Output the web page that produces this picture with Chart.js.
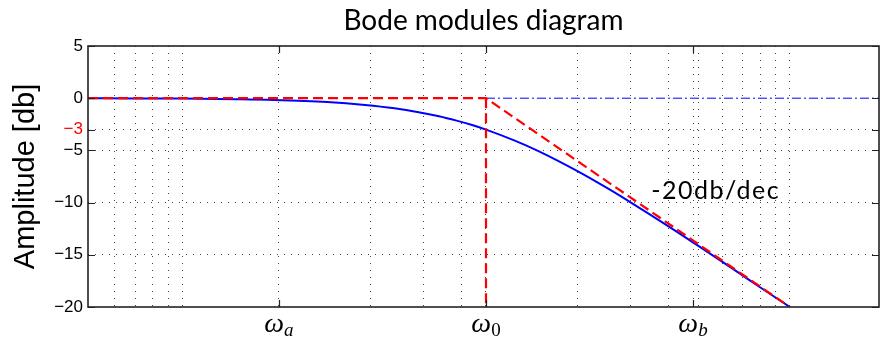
<!DOCTYPE html>
<html>
<head>
<meta charset="utf-8">
<script src="https://cdn.jsdelivr.net/npm/chart.js@4"></script>
<style>
  html, body { margin: 0; padding: 0; background: #fff; }
  #wrap { width: 884px; height: 337px; position: relative; }
</style>
</head>
<body>
<div id="wrap"><canvas id="bode"></canvas></div>
<script>
// magnitude of the first order system
const omega = [0.049, 0.07, 0.1, 0.15, 0.2, 0.3, 0.4, 0.5, 0.6, 0.7, 0.8, 0.9, 1, 1.25, 1.5, 2, 2.5, 3, 4, 5, 6, 7, 8, 10];
const gainDb = [-0.01, -0.02, -0.04, -0.1, -0.17, -0.37, -0.65, -0.97, -1.34, -1.73, -2.15, -2.57, -3.01, -4.09, -5.12, -6.99, -8.6, -10.0, -12.3, -14.15, -15.68, -16.99, -18.13, -20.0];

// asymptotes
const asymOmega = [0.049, 1, 10];
const asymDb = [0, 0, -20];
const cutOmega = [1, 1];
const cutDb = [0, -20];
const refOmega = [1, 19.65];
const refDb = [0, 0];

// axes
const xMin = 0.049, xMax = 19.65;
const xGrid = [0.06, 0.07, 0.08, 0.09, 0.1, 0.208, 0.416, 0.624, 0.832, 1, 2, 3, 4, 4.8, 5, 6, 7, 8, 9, 10];
const xLabelValues = [0.208, 1, 4.8];
const xLabelSubs = ['a', '0', 'b'];
const yTicks = [5, 0, -3, -5, -10, -15, -20];

const pts = (xs, ys) => xs.map((v, i) => ({ x: v, y: ys[i] }));

const decor = {
  id: 'decor',
  afterDraw(chart) {
    const { ctx, chartArea: a, scales: { x, y } } = chart;
    ctx.save();
    // frame
    ctx.strokeStyle = '#222';
    ctx.lineWidth = 1.6;
    ctx.strokeRect(a.left, a.top, a.right - a.left, a.bottom - a.top);
    // inward ticks
    ctx.lineWidth = 1.2;
    ctx.beginPath();
    yTicks.forEach(v => {
      const py = Math.round(y.getPixelForValue(v)) + 0.5;
      ctx.moveTo(a.left, py); ctx.lineTo(a.left + 7, py);
      ctx.moveTo(a.right, py); ctx.lineTo(a.right - 7, py);
    });
    xLabelValues.forEach(v => {
      const px = Math.round(x.getPixelForValue(v)) + 0.5;
      ctx.moveTo(px, a.bottom); ctx.lineTo(px, a.bottom - 7);
      ctx.moveTo(px, a.top); ctx.lineTo(px, a.top + 7);
    });
    ctx.stroke();

    // omega labels
    ctx.fillStyle = '#000';
    ctx.textBaseline = 'alphabetic';
    ctx.textAlign = 'left';
    xLabelValues.forEach((v, i) => {
      const px = x.getPixelForValue(v);
      ctx.font = 'italic 28px "Liberation Serif"';
      const w1 = ctx.measureText('ω').width;
      const subFont = xLabelSubs[i] === '0' ? '19px "Liberation Serif"' : 'italic 19px "Liberation Serif"';
      ctx.font = subFont;
      const w2 = ctx.measureText(xLabelSubs[i]).width;
      const x0 = px - (w1 + w2) / 2;
      ctx.font = 'italic 28px "Liberation Serif"';
      ctx.fillText('ω', x0, 332);
      ctx.font = subFont;
      ctx.fillText(xLabelSubs[i], x0 + w1, 336);
    });

    // title
    ctx.font = '28px Lato';
    ctx.textAlign = 'center';
    ctx.fillText('Bode modules diagram', (a.left + a.right) / 2, 30);

    // slope annotation
    ctx.font = '25px Lato';
    ctx.textAlign = 'left';
    ctx.letterSpacing = '1.5px';
    ctx.fillText('-20db/dec', x.getPixelForValue(3.5), y.getPixelForValue(-9.65));
    ctx.restore();
  }
};

new Chart(document.getElementById('bode'), {
  type: 'line',
  data: {
    datasets: [
      {
        data: pts(asymOmega, asymDb),
        borderColor: '#ff0000',
        borderWidth: 2.2,
        borderDash: [10, 5],
        pointRadius: 0,
        order: 0,
      },
      {
        data: pts(cutOmega, cutDb),
        borderColor: '#ff0000',
        borderWidth: 2.2,
        borderDash: [10, 5],
        pointRadius: 0,
        order: 0,
      },
      {
        data: pts(refOmega, refDb),
        borderColor: '#0000ff',
        borderWidth: 1,
        borderDash: [9, 3, 2, 3],
        pointRadius: 0,
        order: 1,
      },
      {
        data: pts(omega, gainDb),
        borderColor: '#0000ff',
        borderWidth: 2,
        pointRadius: 0,
        cubicInterpolationMode: 'monotone',
        order: 2,
      },
    ],
  },
  options: {
    responsive: true,
    maintainAspectRatio: false,
    animation: false,
    layout: { padding: { top: 46, right: 5, left: 0, bottom: 0 } },
    plugins: { legend: { display: false }, tooltip: { enabled: false }, title: { display: false } },
    scales: {
      x: {
        type: 'logarithmic',
        min: xMin,
        max: xMax,
        afterBuildTicks: (scale) => { scale.ticks = xGrid.map(v => ({ value: v })); },
        afterFit: (scale) => { scale.height = 30; },
        ticks: { display: false, autoSkip: false },
        grid: { color: '#444', lineWidth: 1, drawTicks: false },
        border: { display: false, dash: [1, 6] },
      },
      y: {
        type: 'linear',
        min: -20,
        max: 5,
        afterBuildTicks: (scale) => { scale.ticks = yTicks.map(v => ({ value: v })); },
        afterFit: (scale) => { scale.width = 88; },
        ticks: {
          autoSkip: false,
          padding: 5,
          font: { family: '"Liberation Sans"', size: 17 },
          color: (c) => (c.tick && c.tick.value === -3 ? '#ff0000' : '#000'),
          callback: (v) => String(v).replace('-', '\u2212'),
        },
        grid: {
          color: (c) => ([5, 0, -20].includes(c.tick && c.tick.value) ? 'rgba(0,0,0,0)' : '#444'),
          lineWidth: 1,
          drawTicks: false,
        },
        border: { display: false, dash: [1, 6] },
        title: {
          display: true,
          text: 'Amplitude [db]',
          color: '#000',
          font: { family: '"Liberation Sans"', size: 29 },
          padding: { top: 9, bottom: 0 },
        },
      },
    },
  },
  plugins: [decor],
});
</script>
</body>
</html>
